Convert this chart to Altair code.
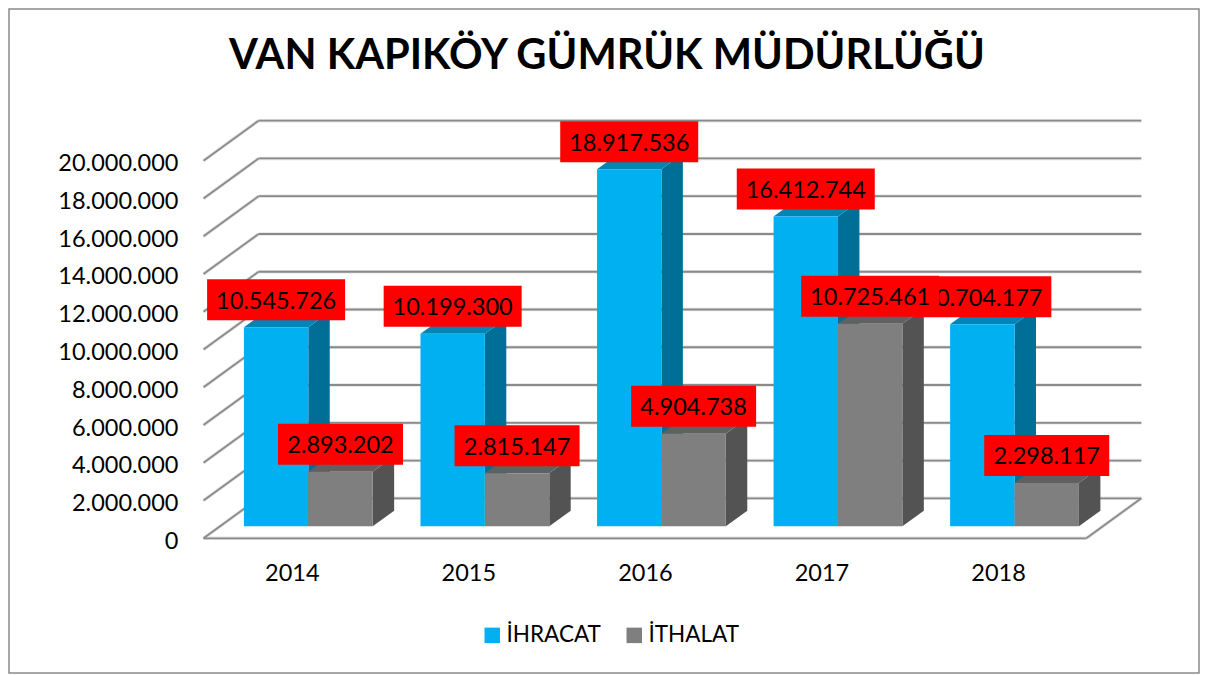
import altair as alt
import pandas as pd

title_text = "VAN KAPIKÖY GÜMRÜK MÜDÜRLÜĞÜ"
years = [2014, 2015, 2016, 2017, 2018]
ihracat = [10545726, 10199300, 18917536, 16412744, 10704177]
ithalat = [2893202, 2815147, 4904738, 10725461, 2298117]
series_names = ["İHRACAT", "İTHALAT"]
y_ticks = list(range(0, 20000001, 2000000))

FONT = "Lato"
PX_PER_YEAR = 176.56
PX_PER_VALUE = 18.88e-6
X0_PAGE, Y0_PAGE = 291.8, 538.3      # page position of (2014, 0) on the front plane
DEPTH_X, DEPTH_Y = 55.0, 40.0        # px shift from front plane to back wall
W, H = 1190, 664
PAD = 1

def ux(px):
    return px / PX_PER_YEAR

def uy(px):
    return px / PX_PER_VALUE

def px_(year, value, depth=0.0):
    """data coordinates of a point lying `depth` (0..1) into the 3D box"""
    return year + ux(depth * DEPTH_X), value + uy(depth * DEPTH_Y)

x_scale = alt.Scale(domain=[2014 + ux(PAD + 8 - X0_PAGE), 2014 + ux(PAD + 8 + W - X0_PAGE)], nice=False, zero=False)
y_scale = alt.Scale(domain=[uy(Y0_PAGE - (PAD + 8 + H)), uy(Y0_PAGE - (PAD + 8))], nice=False, zero=False)

BAR_W = ux(64.4)
D_FRONT, D_BACK = 0.30, 0.69

fronts, sides, tops, boxes = [], [], [], []
for s_i, (name, vals) in enumerate(zip(series_names, [ihracat, ithalat])):
    for yr, v in zip(years, vals):
        cx = yr + (s_i - 1) * BAR_W   # left edge of the bar, before depth shift
        xl, yb = px_(cx, 0, D_FRONT)
        xr, yt = px_(cx + BAR_W, v, D_FRONT)
        fronts.append(dict(series=name, x=xl, x2=xr, y=yb, y2=yt))
        xb, ybb = px_(cx + BAR_W, 0, D_BACK)
        _, ybt = px_(cx + BAR_W, v, D_BACK)
        key = f"{name}{yr}"
        sides.append(dict(series=name, k=key, x=xr, y=yt, y2=yb))
        sides.append(dict(series=name, k=key, x=xb, y=ybt, y2=ybb))
        xbl, _ = px_(cx, v, D_BACK)
        tops.append(dict(series=name, k=key, y=yt, x=xl, x2=xr))
        tops.append(dict(series=name, k=key, y=ybt, x=xbl, x2=xb))
        label = f"{v:,}".replace(",", ".")
        half = ux(69 if v >= 10000000 else 62.5)
        mid = (xl + xr) / 2
        cy = yt + uy(27.5)
        boxes.append(dict(series=name, label=label, cx=mid, cy=cy, x=mid - half, x2=mid + half,
                          y=cy - uy(20.5), y2=cy + uy(20.5)))

fronts, sides, tops, boxes = map(pd.DataFrame, (fronts, sides, tops, boxes))

# gridlines
left_front = 2014 - 0.5
right_front = 2018 + 0.5
grid = []
for v in y_ticks:
    bx, by = px_(left_front, v, 1)
    bx2, _ = px_(right_front, v, 1)
    grid.append(dict(x=bx, x2=bx2, y=by, y2=by))
    grid.append(dict(x=left_front, x2=bx, y=v, y2=by))
# floor
grid.append(dict(x=left_front, x2=right_front, y=0, y2=0))
bx, by = px_(right_front, 0, 1)
grid.append(dict(x=right_front, x2=bx, y=0, y2=by))
grid = pd.DataFrame(grid)

axis_x = alt.Axis(values=years, format="d", domain=False, ticks=False, grid=False, labelFont=FONT,
                  labelFontSize=23.5, labelColor="#000000", labelPadding=2, offset=-114, labelFlush=False,
                  labelOverlap=False)
axis_y = alt.Axis(values=y_ticks, labelExpr="replace(format(datum.value, ','), /,/g, '.')", domain=False, ticks=False,
                  grid=False, labelFont=FONT, labelFontSize=23.5, labelColor="#000000", labelPadding=2, offset=-171,
                  labelFlush=False, labelOverlap=False, labelOffset=3)

X = alt.X("x:Q", scale=x_scale, title=None, axis=axis_x)
Y = alt.Y("y:Q", scale=y_scale, title=None, axis=axis_y)

halo = alt.Chart(grid).mark_rule(color="#e4e4e4", strokeWidth=3.5).encode(x=X, x2="x2:Q", y=Y, y2="y2:Q")
lines = alt.Chart(grid).mark_rule(color="#8a8a8a", strokeWidth=1.8).encode(x=X, x2="x2:Q", y=Y, y2="y2:Q")

def side(name, color):
    return alt.Chart(sides[sides.series == name]).mark_area(color=color, orient="vertical").encode(
        x=X, y=Y, y2="y2:Q", detail="k:N")

def top(name, color):
    return alt.Chart(tops[tops.series == name]).mark_area(color=color, orient="horizontal").encode(
        y=Y, x=X, x2="x2:Q", detail="k:N")

front = alt.Chart(fronts).mark_rect().encode(
    x=X, x2="x2:Q", y=Y, y2="y2:Q",
    color=alt.Color("series:N", scale=alt.Scale(domain=series_names, range=["#00B0F0", "#7F7F7F"]),
                    legend=alt.Legend(title=None, orient="none", direction="horizontal", legendX=472, legendY=615,
                                      symbolType="square", symbolSize=240, symbolStrokeWidth=0, labelFont=FONT,
                                      labelFontSize=22.5, labelColor="#000000", columnPadding=22, labelOffset=3)))

def label_layers(name):
    d = boxes[boxes.series == name]
    r = alt.Chart(d).mark_rect(color="#FF0000").encode(x=X, x2="x2:Q", y=Y, y2="y2:Q")
    t = alt.Chart(d).mark_text(font=FONT, fontSize=23.5, color="#000000", baseline="middle", align="center", dy=2).encode(
        x=alt.X("cx:Q", scale=x_scale, axis=axis_x, title=None), y=alt.Y("cy:Q", scale=y_scale, axis=axis_y, title=None),
        text="label:N")
    return [r, t]

chart = alt.layer(
    halo, lines,
    side(series_names[0], "#006F98"), top(series_names[0], "#0085B6"),
    side(series_names[1], "#535353"), top(series_names[1], "#606060"),
    front,
    *label_layers(series_names[0]), *label_layers(series_names[1]),
).properties(
    width=W, height=H,
    padding=PAD,
    autosize=alt.AutoSizeParams(type="none"),
    title=alt.TitleParams(title_text, font=FONT, fontWeight="bold", fontSize=41.6, color="#000000",
                          anchor="middle", frame="group", dy=73, dx=3, orient="top"),
).configure_view(stroke="#8a8a8a", strokeWidth=1.5)

chart.save("out.html", embed_options={"renderer": "svg", "actions": False})
